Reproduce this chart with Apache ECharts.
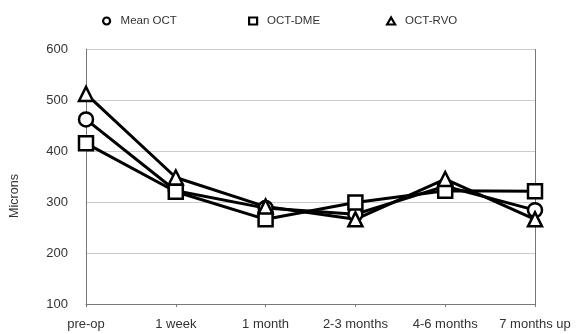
<!DOCTYPE html>
<html><head><meta charset="utf-8">
<script src="https://cdn.jsdelivr.net/npm/echarts@6/dist/echarts.min.js"></script>
<style>html,body{margin:0;padding:0;background:#fff}#c{width:576px;height:334px}</style>
</head><body><div id="c"></div>
<script>
const categories = ['pre-op','1 week','1 month','2-3 months','4-6 months','7 months up'];
const meanOCT = [462, 322, 288, 276, 331, 284];
const octDME  = [415, 320, 266, 299, 322, 321];
const octRVO  = [512, 348, 291, 266, 345, 266];
const yTicks = [100, 200, 300, 400, 500, 600];
const seriesNames = ['Mean OCT', 'OCT-DME', 'OCT-RVO'];
const symbols = ['circle', 'rect', 'triangle'];

const chart = echarts.init(document.getElementById('c'), null, {renderer:'canvas'});
const font = 'Liberation Sans, Arial, sans-serif';
function ser(name, data, symbol) {
  return {
    name, type:'line', data, symbol, symbolSize: 14,
    lineStyle:{color:'#000', width:3},
    itemStyle:{color:'#fff', borderColor:'#000', borderWidth:2.5},
    emphasis:{disabled:true}, animation:false
  };
}
const legendLefts = [97, 243, 381];
const legends = seriesNames.map((n, i) => ({
  top:10, left:legendLefts[i], itemWidth:8, itemHeight:7,
  textStyle:{fontFamily:font, fontSize:11.5, color:'#333', padding:[0,0,0,5]},
  data:[{name:n, icon:symbols[i]}],
  itemStyle:{color:'#fff', borderColor:'#000', borderWidth:2.2},
  lineStyle:{opacity:0}
}));
chart.setOption({
  animation:false,
  grid:{left:86, right:41, top:49, bottom:30},
  legend:legends,
  xAxis:{
    type:'category', data:categories, boundaryGap:false,
    axisLine:{lineStyle:{color:'#777', width:1}},
    axisTick:{show:true, length:3, interval:0, lineStyle:{color:'#777'}},
    axisLabel:{fontFamily:font, fontSize:13, color:'#333', margin:14, interval:0, hideOverlap:false},
    splitLine:{show:false}
  },
  yAxis:{
    type:'value', min:yTicks[0], max:yTicks[yTicks.length-1], interval:100,
    axisLine:{show:true, lineStyle:{color:'#777', width:1}},
    axisTick:{show:false},
    axisLabel:{fontFamily:font, fontSize:13, color:'#333', margin:18},
    splitLine:{lineStyle:{color:'#ccc', width:1}}
  },
  series:[
    ser(seriesNames[0], meanOCT, symbols[0]),
    ser(seriesNames[1], octDME, symbols[1]),
    ser(seriesNames[2], octRVO, symbols[2])
  ],
  graphic:[
    {type:'line', shape:{x1:535.5, y1:49, x2:535.5, y2:304}, style:{stroke:'#777', lineWidth:1}, silent:true},
    {type:'text', x:15, y:196, rotation:Math.PI/2,
     style:{text:'Microns', font:'12.5px Liberation Sans, Arial, sans-serif', fill:'#333', align:'center', verticalAlign:'middle'}, silent:true}
  ]
});
</script></body></html>
